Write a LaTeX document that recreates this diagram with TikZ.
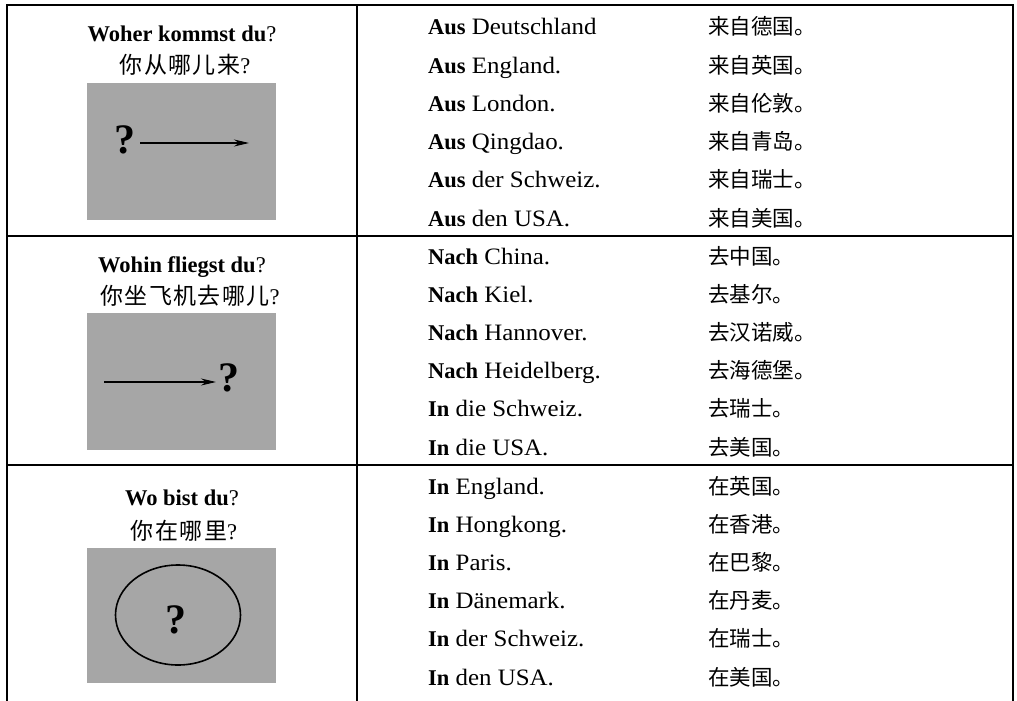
\documentclass[tikz,border=0pt]{standalone}
\usepackage{fontspec}
\setmainfont{Liberation Serif}
\newfontfamily\widefont{Liberation Serif}[FakeStretch=1.06]
\newfontfamily\cjk{Noto Sans CJK SC}
\newfontfamily\cjkhead{Noto Sans CJK SC}[LetterSpace=6]
\usetikzlibrary{arrows.meta,shapes.geometric}
\definecolor{boxgray}{RGB}{166,166,166}
\newcommand{\kw}[1]{{\fontsize{22.5}{24}\selectfont\rmfamily\bfseries #1}}
\newcommand{\latq}{{\fontsize{22.5}{24}\selectfont\rmfamily ?}}
\tikzset{
  de/.style={anchor=base west, inner sep=0pt, font=\fontsize{23.5}{24}\selectfont\widefont},
  zh/.style={anchor=base west, inner sep=0pt, font=\fontsize{21.5}{22}\selectfont\cjk},
  headde/.style={anchor=base, inner sep=0pt, font=\fontsize{22.5}{24}\selectfont},
  headzh/.style={anchor=base, inner sep=0pt, font=\fontsize{23}{24}\selectfont},
  graybox/.style={fill=boxgray, draw=none, minimum width=189pt, minimum height=137pt, inner sep=0pt},
  qmark/.style={inner sep=0pt, font=\fontsize{42}{42}\selectfont\bfseries},
  gridline/.style={line width=1.2pt},
  frameline/.style={line width=1.6pt},
  arr/.style={line width=1.1pt, -{Stealth[length=15pt,width=7pt]}},
  ring/.style={ellipse, draw, line width=1.6pt, minimum width=125pt, minimum height=100pt, inner sep=0pt}
}
\begin{document}
\begin{tikzpicture}[x=1pt,y=-1pt]
\useasboundingbox (0,0) rectangle (1017,701);
% table frame
\coordinate (tl) at (7,5);
\coordinate (tr) at (1013,5);
\coordinate (bl) at (7,702);
\coordinate (br) at (1013,702);
\coordinate (mt) at (357,5);
\coordinate (mb) at (357,702);
\coordinate (s1l) at (7,236);
\coordinate (s1r) at (1013,236);
\coordinate (s2l) at (7,465);
\coordinate (s2r) at (1013,465);
\draw[frameline] (bl) -- (tl) -- (tr) -- (br);
\draw[gridline] (mt) -- (mb);
\draw[gridline] (s1l) -- (s1r);
\draw[gridline] (s2l) -- (s2r);

% ---------- row 1 ----------
\node[headde] (h1) at (182,42) {\textbf{Woher kommst du}?};
\node[headzh] (c1) at (185,74) {{\cjkhead 你从哪儿来}\latq};
\node[graybox] (g1) at (181.5,151.5) {};
\node[qmark] (q1) at (125,140) {?};
\coordinate (a1s) at (140,143);
\coordinate (a1e) at (249,143);
\draw[arr] (a1s) -- (a1e);

\node[de] (d11) at (428,35)    {\kw{Aus} Deutschland};
\node[de] (d12) at (428,73.2)  {\kw{Aus} England.};
\node[de] (d13) at (428,111.4) {\kw{Aus} London.};
\node[de] (d14) at (428,149.6) {\kw{Aus} Qingdao.};
\node[de] (d15) at (428,187.8) {\kw{Aus} der Schweiz.};
\node[de] (d16) at (428,226)   {\kw{Aus} den USA.};
\node[zh] (z11) at (708,35)    {来自德国。};
\node[zh] (z12) at (708,73.2)  {来自英国。};
\node[zh] (z13) at (708,111.4) {来自伦敦。};
\node[zh] (z14) at (708,149.6) {来自青岛。};
\node[zh] (z15) at (708,187.8) {来自瑞士。};
\node[zh] (z16) at (708,226)   {来自美国。};

% ---------- row 2 ----------
\node[headde] (h2) at (182,272) {\textbf{Wohin fliegst du}?};
\node[headzh] (c2) at (190,304) {{\cjkhead 你坐飞机去哪儿}\latq};
\node[graybox] (g2) at (181.5,381.5) {};
\node[qmark] (q2) at (229,378) {?};
\coordinate (a2s) at (104,382);
\coordinate (a2e) at (216,382);
\draw[arr] (a2s) -- (a2e);

\node[de] (d21) at (428,264)   {\kw{Nach} China.};
\node[de] (d22) at (428,302.2) {\kw{Nach} Kiel.};
\node[de] (d23) at (428,340.4) {\kw{Nach} Hannover.};
\node[de] (d24) at (428,378.6) {\kw{Nach} Heidelberg.};
\node[de] (d25) at (428,416.8) {\kw{In} die Schweiz.};
\node[de] (d26) at (428,455)   {\kw{In} die USA.};
\node[zh] (z21) at (708,264)   {去中国。};
\node[zh] (z22) at (708,302.2) {去基尔。};
\node[zh] (z23) at (708,340.4) {去汉诺威。};
\node[zh] (z24) at (708,378.6) {去海德堡。};
\node[zh] (z25) at (708,416.8) {去瑞士。};
\node[zh] (z26) at (708,455)   {去美国。};

% ---------- row 3 ----------
\node[headde] (h3) at (182,505) {\textbf{Wo bist du}?};
\node[headzh] (c3) at (184,539) {{\cjkhead 你在哪里}\latq};
\node[graybox, minimum height=135pt] (g3) at (181.5,615.5) {};
\node[ring] (e3) at (178,615) {};
\node[qmark] (q3) at (176,620) {?};

\node[de] (d31) at (428,494)   {\kw{In} England.};
\node[de] (d32) at (428,532.2) {\kw{In} Hongkong.};
\node[de] (d33) at (428,570.4) {\kw{In} Paris.};
\node[de] (d34) at (428,608.6) {\kw{In} Dänemark.};
\node[de] (d35) at (428,646.8) {\kw{In} der Schweiz.};
\node[de] (d36) at (428,685)   {\kw{In} den USA.};
\node[zh] (z31) at (708,494)   {在英国。};
\node[zh] (z32) at (708,532.2) {在香港。};
\node[zh] (z33) at (708,570.4) {在巴黎。};
\node[zh] (z34) at (708,608.6) {在丹麦。};
\node[zh] (z35) at (708,646.8) {在瑞士。};
\node[zh] (z36) at (708,685)   {在美国。};
\end{tikzpicture}
\end{document}
